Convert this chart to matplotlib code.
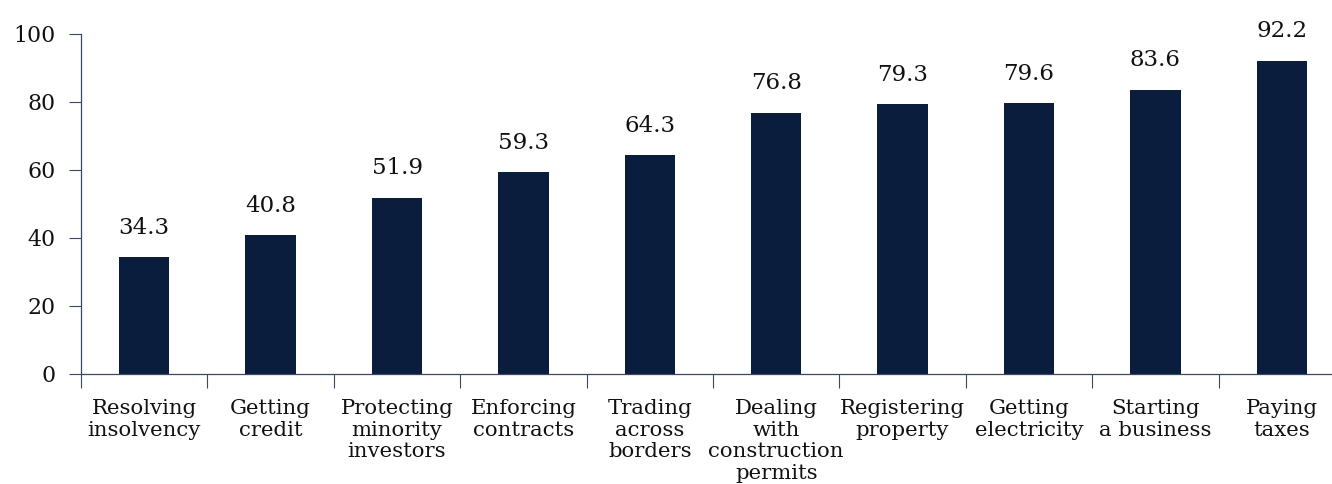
import numpy as np
import matplotlib
matplotlib.use("Agg")
from matplotlib import pyplot as plt
from matplotlib.ticker import FixedLocator, NullFormatter

W, H, DPI = 1332, 484, 100

BAR_COLOR = "#0a1d3d"
AXIS_COLOR = "#3a4864"

categories = [
    "Resolving\ninsolvency",
    "Getting\ncredit",
    "Protecting\nminority\ninvestors",
    "Enforcing\ncontracts",
    "Trading\nacross\nborders",
    "Dealing\nwith\nconstruction\npermits",
    "Registering\nproperty",
    "Getting\nelectricity",
    "Starting\na business",
    "Paying\ntaxes",
]
scores = [34.3, 40.8, 51.9, 59.3, 64.3, 76.8, 79.3, 79.6, 83.6, 92.2]
y_ticks = [0, 20, 40, 60, 80, 100]

plt.rcParams["font.family"] = ["DejaVu Serif"]

fig = plt.figure(figsize=(W / DPI, H / DPI), dpi=DPI)
# the last category runs a little past the right edge of the canvas
ax = fig.add_axes([81 / W, 110 / H, 1264 / W, 340 / H])

x = np.arange(len(categories))
ax.bar(x, scores, width=0.4, color=BAR_COLOR, zorder=2)

for xi, v in zip(x, scores):
    ax.annotate(f"{v:.1f}", (xi, v), xytext=(0, 17), textcoords="offset points",
                ha="center", va="baseline", fontsize=16.5, color="#111111")

ax.set_xlim(-0.5, len(categories) - 0.5)
ax.set_ylim(0, 100)
ax.set_yticks(y_ticks)
ax.tick_params(axis="y", labelsize=15.8, length=9, width=0.8,
               color=AXIS_COLOR, labelcolor="#111111", pad=9)

# boundary ticks between categories, labels at the centres
ax.xaxis.set_major_locator(FixedLocator(np.arange(len(categories)) - 0.5))
ax.xaxis.set_major_formatter(NullFormatter())
ax.xaxis.set_minor_locator(FixedLocator(x))
ax.set_xticklabels(categories, minor=True, fontsize=15.3, linespacing=1.18,
                   color="#111111")
ax.tick_params(axis="x", which="major", length=10, width=0.8, color=AXIS_COLOR)
ax.tick_params(axis="x", which="minor", length=0, pad=18)

for side in ("top", "right"):
    ax.spines[side].set_visible(False)
for side in ("left", "bottom"):
    ax.spines[side].set_color(AXIS_COLOR)
    ax.spines[side].set_linewidth(0.9)

fig.savefig("out.png", dpi=DPI)
